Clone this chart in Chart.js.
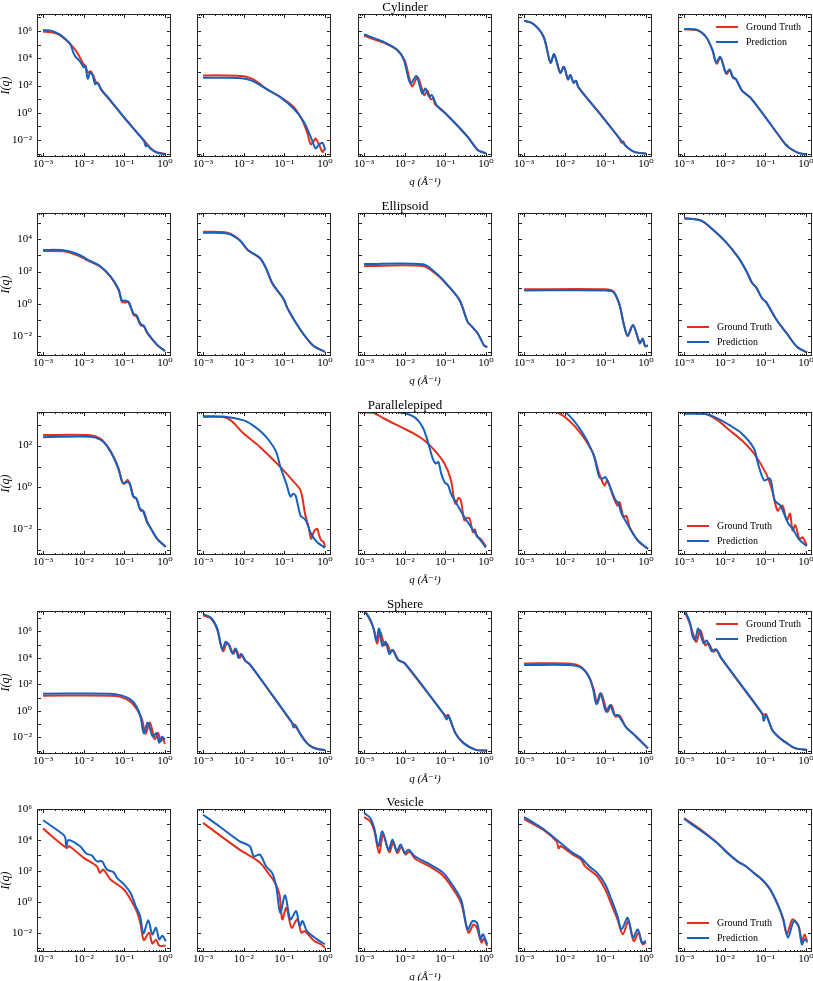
<!DOCTYPE html>
<html>
<head>
<meta charset="utf-8">
<script src="https://cdn.jsdelivr.net/npm/chart.js@4.4.0/dist/chart.umd.min.js"></script>
<style>
  body { margin: 0; background: #fff; width: 813px; height: 981px; overflow: hidden; position: relative; }
  canvas { position: absolute; }
</style>
</head>
<body>
<script>
/* values, stored as [log10 q, log10 I] pairs */
var rowNames = ['Cylinder', 'Ellipsoid', 'Parallelepiped', 'Sphere', 'Vesicle'];
var qTickExp = [-3, -2, -1, 0];
var iTickExp = [[-2, 0, 2, 4, 6], [-2, 0, 2, 4], [-2, 0, 2], [-2, 0, 2, 4, 6], [-2, 0, 2, 4, 6]];
var qLimits = [-3.15, 0.15];
var iLimits = [[-3.25, 7.25], [-3.24, 5.63], [-3.21, 3.6], [-3.26, 7.53], [-3.25, 6.0]];
var legendCorner = ['ur', 'll', 'll', 'ur', 'll'];

var cylinderTruth = [
  [[-3,5.95],[-2.8,5.9],[-2.6,5.72],[-2.45,5.38],[-2.3,4.95],[-2.2,4.6],[-2.1,4.1],[-2.0,3.55],[-1.95,3.4],[-1.9,2.95],[-1.83,3.05],[-1.76,2.7],[-1.7,2.25],[-1.64,2.15],[-1.56,1.65],[-1.45,1.25],[-1.3,0.72],[-1.0,-0.38],[-0.7,-1.42],[-0.5,-2.08],[-0.35,-2.6],[-0.2,-2.9],[0,-3.02]],
  [[-3,2.74],[-2.5,2.74],[-2.0,2.68],[-1.8,2.5],[-1.67,2.27],[-1.42,1.71],[-1.1,1.17],[-0.77,0.43],[-0.56,-0.54],[-0.43,-1.52],[-0.35,-2.31],[-0.28,-2.1],[-0.23,-1.89],[-0.15,-2.3],[-0.06,-2.87],[0,-2.63]],
  [[-3,5.64],[-2.52,5.15],[-2.19,4.6],[-2.0,3.85],[-1.82,1.95],[-1.68,2.6],[-1.52,1.3],[-1.44,1.62],[-1.36,1.0],[-1.3,1.05],[-1.25,0.6],[-1.18,0.45],[-0.95,-0.18],[-0.45,-1.75],[-0.2,-2.73],[0,-2.97]],
  [[-3,6.76],[-2.77,6.52],[-2.52,5.58],[-2.35,3.67],[-2.26,4.29],[-2.11,2.93],[-2.02,3.37],[-1.92,2.45],[-1.86,2.77],[-1.78,2.2],[-1.72,2.35],[-1.66,1.86],[-1.11,-0.15],[-0.66,-1.85],[-0.6,-2.2],[-0.56,-2.1],[-0.5,-2.45],[-0.29,-2.87],[0,-3.0]],
  [[-3,6.13],[-2.67,6.05],[-2.46,5.56],[-2.3,4.58],[-2.2,3.6],[-2.1,4.05],[-1.96,2.85],[-1.87,3.12],[-1.79,2.55],[-1.72,2.45],[-1.64,2.0],[-1.57,1.62],[-1.35,1.05],[-0.52,-2.26],[-0.46,-2.4],[-0.42,-2.55],[-0.19,-2.95],[0,-3.05]]
];
var cylinderPred = [
  [[-3,6.07],[-2.8,6.02],[-2.6,5.78],[-2.45,5.42],[-2.33,5.05],[-2.26,4.45],[-2.2,4.1],[-2.1,3.8],[-2.0,3.35],[-1.96,3.45],[-1.9,2.5],[-1.84,2.95],[-1.78,2.75],[-1.72,2.1],[-1.66,2.2],[-1.58,1.75],[-1.5,1.45],[-1.42,1.2],[-1.3,0.75],[-1.0,-0.35],[-0.7,-1.4],[-0.52,-2.05],[-0.47,-2.45],[-0.42,-2.4],[-0.36,-2.62],[-0.2,-2.93],[0,-3.05]],
  [[-3,2.57],[-2.5,2.57],[-2.0,2.52],[-1.8,2.36],[-1.67,2.15],[-1.42,1.71],[-1.1,1.15],[-0.77,0.3],[-0.52,-0.66],[-0.35,-1.77],[-0.28,-2.3],[-0.23,-2.62],[-0.15,-2.35],[-0.06,-2.2],[0.01,-2.75]],
  [[-3,5.76],[-2.52,5.21],[-2.19,4.65],[-2.02,3.87],[-1.86,2.15],[-1.71,2.69],[-1.57,1.42],[-1.49,1.78],[-1.4,1.18],[-1.33,1.3],[-1.2,0.48],[-0.95,-0.18],[-0.45,-1.77],[-0.2,-2.75],[0,-2.99]],
  [[-3,6.76],[-2.77,6.52],[-2.52,5.58],[-2.35,3.67],[-2.26,4.29],[-2.11,2.93],[-2.02,3.37],[-1.92,2.45],[-1.86,2.77],[-1.78,2.2],[-1.72,2.35],[-1.66,1.86],[-1.11,-0.15],[-0.62,-2.01],[-0.45,-2.55],[-0.29,-2.87],[0,-3.0]],
  [[-3,6.15],[-2.67,6.07],[-2.46,5.58],[-2.3,4.6],[-2.21,3.7],[-2.11,4.1],[-1.97,2.93],[-1.88,3.18],[-1.8,2.6],[-1.73,2.5],[-1.65,2.03],[-1.57,1.6],[-1.35,1.05],[-0.52,-2.26],[-0.45,-2.5],[-0.19,-2.95],[0,-3.05]]
];

var ellipsoidTruth = [
  [[-3,3.27],[-2.5,3.25],[-2.17,3.02],[-1.84,2.61],[-1.59,2.3],[-1.34,1.68],[-1.14,0.85],[-1.06,0.12],[-0.98,0.08],[-0.89,0.12],[-0.77,-0.7],[-0.7,-0.78],[-0.6,-1.32],[-0.52,-1.4],[-0.43,-1.84],[-0.19,-2.56],[0,-2.94]],
  [[-3,4.47],[-2.4,4.4],[-2.1,3.96],[-1.9,3.34],[-1.6,2.82],[-1.45,2.2],[-1.3,1.27],[-1.15,0.75],[-1.02,0.3],[-0.9,-0.39],[-0.6,-1.63],[-0.3,-2.57],[0,-2.98]],
  [[-3,2.34],[-1.55,2.34],[-1.25,1.89],[-0.95,1.16],[-0.65,0.23],[-0.45,-1.12],[-0.35,-1.4],[-0.2,-1.84],[-0.05,-2.57],[0.03,-2.7]],
  [[-3,0.9],[-1.0,0.9],[-0.8,0.76],[-0.65,-0.05],[-0.55,-1.2],[-0.45,-2.0],[-0.32,-1.32],[-0.2,-2.1],[-0.15,-2.46],[-0.08,-2.17],[-0.02,-2.63],[0.05,-2.58]],
  [[-3,5.3],[-2.58,5.16],[-2.28,4.58],[-1.98,3.85],[-1.68,2.92],[-1.48,2.09],[-1.32,1.27],[-1.22,1.0],[-1.08,0.34],[-0.98,0.1],[-0.72,-1.01],[-0.47,-1.84],[-0.22,-2.67],[0.03,-3.02]]
];
var ellipsoidPred = [
  [[-3,3.34],[-2.5,3.32],[-2.17,3.1],[-1.84,2.66],[-1.59,2.33],[-1.34,1.7],[-1.14,0.9],[-1.06,0.2],[-0.98,0.2],[-0.9,0.1],[-0.77,-0.62],[-0.7,-0.7],[-0.6,-1.25],[-0.52,-1.36],[-0.43,-1.8],[-0.19,-2.55],[0,-2.93]],
  [[-3,4.41],[-2.4,4.36],[-2.1,3.94],[-1.9,3.34],[-1.6,2.84],[-1.45,2.2],[-1.3,1.3],[-1.15,0.75],[-1.02,0.3],[-0.9,-0.39],[-0.6,-1.63],[-0.3,-2.57],[0,-2.98]],
  [[-3,2.47],[-1.55,2.45],[-1.25,1.95],[-0.95,1.18],[-0.65,0.23],[-0.45,-1.12],[-0.35,-1.4],[-0.2,-1.84],[-0.05,-2.57],[0.03,-2.7]],
  [[-3,0.83],[-1.0,0.83],[-0.8,0.72],[-0.65,-0.08],[-0.55,-1.22],[-0.45,-2.0],[-0.32,-1.32],[-0.2,-2.1],[-0.15,-2.46],[-0.08,-2.17],[-0.02,-2.63],[0.05,-2.58]],
  [[-3,5.3],[-2.58,5.16],[-2.28,4.58],[-1.98,3.85],[-1.68,2.92],[-1.48,2.09],[-1.32,1.27],[-1.22,1.0],[-1.08,0.34],[-0.98,0.1],[-0.72,-1.01],[-0.47,-1.84],[-0.22,-2.67],[0.03,-3.02]]
];

var parallelepipedTruth = [
  [[-3,2.5],[-1.84,2.49],[-1.59,2.33],[-1.43,2.01],[-1.26,1.45],[-1.14,0.9],[-1.04,0.2],[-1.0,0.18],[-0.92,0.36],[-0.85,0.1],[-0.77,-0.46],[-0.7,-0.55],[-0.6,-1.1],[-0.52,-1.15],[-0.43,-1.66],[-0.36,-1.9],[-0.19,-2.45],[0.02,-2.82]],
  [[-3,3.37],[-2.4,3.3],[-2.0,2.57],[-1.6,1.93],[-1.1,0.98],[-0.8,0.34],[-0.6,-0.14],[-0.49,-1.25],[-0.4,-1.9],[-0.34,-2.45],[-0.27,-2.1],[-0.19,-1.97],[-0.14,-2.3],[-0.09,-2.53],[-0.03,-2.6],[0,-2.85]],
  [[-3,3.58],[-2.76,3.55],[-2.51,3.29],[-2.1,2.89],[-1.77,2.57],[-1.52,2.25],[-1.27,1.78],[-1.02,1.14],[-0.86,0.34],[-0.78,-0.62],[-0.74,-0.78],[-0.68,-0.5],[-0.62,-0.6],[-0.53,-1.57],[-0.46,-1.45],[-0.4,-1.5],[-0.32,-2.13],[-0.27,-2.0],[-0.22,-2.35],[-0.13,-2.45],[0,-2.82]],
  [[-3,4.3],[-2.6,4.0],[-2.2,3.62],[-1.9,3.21],[-1.6,2.57],[-1.3,1.62],[-1.15,0.66],[-1.02,0.1],[-0.95,0.34],[-0.8,-0.46],[-0.7,-0.86],[-0.65,-0.7],[-0.55,-1.41],[-0.48,-1.35],[-0.4,-1.89],[-0.2,-2.53],[0.05,-2.93]],
  [[-3,3.56],[-2.48,3.52],[-2.18,3.21],[-1.88,2.73],[-1.58,2.25],[-1.28,1.62],[-0.98,0.66],[-0.83,-0.14],[-0.7,-1.1],[-0.58,-0.86],[-0.47,-1.57],[-0.39,-1.25],[-0.33,-2.05],[-0.26,-1.8],[-0.16,-2.45],[-0.08,-2.38],[0.02,-2.77]]
];
var parallelepipedPred = [
  [[-3,2.4],[-1.84,2.42],[-1.59,2.28],[-1.43,1.98],[-1.26,1.42],[-1.14,0.85],[-1.06,0.3],[-1.0,0.2],[-0.94,0.26],[-0.87,0.2],[-0.79,-0.4],[-0.7,-0.52],[-0.62,-1.0],[-0.54,-1.12],[-0.45,-1.62],[-0.36,-1.92],[-0.19,-2.45],[0.02,-2.84]],
  [[-3,3.4],[-2.5,3.38],[-2.0,3.2],[-1.8,3.0],[-1.6,2.7],[-1.4,2.3],[-1.2,1.7],[-1.1,1.0],[-0.95,0.18],[-0.85,-0.43],[-0.78,-0.3],[-0.72,-0.4],[-0.6,-1.34],[-0.5,-1.5],[-0.46,-1.6],[-0.34,-2.21],[-0.19,-2.61],[0,-2.88]],
  [[-3,3.62],[-2.5,3.6],[-2.1,3.58],[-1.77,3.37],[-1.56,2.89],[-1.44,2.25],[-1.31,1.38],[-1.23,1.14],[-1.17,1.22],[-1.1,0.66],[-1.02,0.26],[-0.93,0.1],[-0.86,-0.3],[-0.74,-0.7],[-0.53,-1.41],[-0.28,-2.13],[0,-2.87]],
  [[-3,4.6],[-2.5,4.1],[-2.0,3.62],[-1.6,2.73],[-1.3,1.62],[-1.15,0.5],[-1.07,0.42],[-1.0,0.5],[-0.9,0.1],[-0.75,-0.6],[-0.68,-0.75],[-0.6,-1.25],[-0.5,-1.6],[-0.35,-2.1],[-0.2,-2.53],[0.05,-2.93]],
  [[-3,3.52],[-2.48,3.5],[-2.18,3.3],[-1.88,2.97],[-1.58,2.57],[-1.28,1.86],[-1.18,1.14],[-1.03,0.34],[-0.88,0.42],[-0.77,-0.62],[-0.63,-0.86],[-0.53,-1.3],[-0.43,-1.73],[-0.33,-1.95],[-0.18,-2.45],[0.02,-2.8]]
];

var sphereTruth = [
  [[-3,1.14],[-1.34,1.14],[-1.1,1.05],[-0.85,0.69],[-0.68,0.06],[-0.56,-0.69],[-0.48,-1.74],[-0.37,-0.89],[-0.25,-2.14],[-0.17,-1.65],[-0.1,-2.3],[-0.05,-2.1],[0,-2.5]],
  [[-3,7.2],[-2.8,6.95],[-2.65,6.1],[-2.55,4.8],[-2.5,4.5],[-2.42,5.1],[-2.35,4.95],[-2.26,4.3],[-2.18,4.6],[-2.1,4.0],[-2.04,4.2],[-1.95,3.75],[-1.85,3.5],[-1.3,1.2],[-0.8,-0.95],[-0.74,-1.05],[-0.7,-1.3],[-0.6,-1.75],[-0.45,-2.4],[-0.3,-2.75],[-0.15,-2.9],[0,-2.95]],
  [[-3,7.6],[-2.85,6.83],[-2.75,6.08],[-2.68,5.07],[-2.6,5.95],[-2.5,4.95],[-2.43,5.05],[-2.35,4.45],[-2.28,4.55],[-2.15,3.82],[-2.0,3.57],[-1.05,-0.19],[-0.97,-0.4],[-0.93,-0.3],[-0.75,-1.69],[-0.55,-2.44],[-0.25,-2.95],[0.03,-3.0]],
  [[-3,3.57],[-1.9,3.57],[-1.6,3.32],[-1.4,2.56],[-1.28,1.56],[-1.2,0.56],[-1.1,1.31],[-0.95,-0.07],[-0.85,0.43],[-0.75,-0.44],[-0.65,-0.35],[-0.5,-1.19],[-0.25,-1.92],[0.05,-2.82]],
  [[-3,7.6],[-2.86,6.58],[-2.78,5.83],[-2.7,5.2],[-2.6,6.08],[-2.48,4.95],[-2.4,5.1],[-2.28,4.45],[-2.2,4.6],[-2.08,3.95],[-1.08,-0.19],[-1.03,-0.3],[-0.98,-0.25],[-0.83,-1.44],[-0.68,-1.95],[-0.47,-2.44],[-0.27,-2.82],[0.03,-2.95]]
];
var spherePred = [
  [[-3,1.29],[-1.34,1.29],[-1.1,1.18],[-0.85,0.86],[-0.7,0.33],[-0.6,-0.44],[-0.52,-1.69],[-0.42,-0.89],[-0.3,-1.95],[-0.21,-1.69],[-0.14,-2.4],[-0.07,-1.95],[0,-2.2]],
  [[-3,7.3],[-2.8,7.0],[-2.65,6.2],[-2.58,5.2],[-2.52,4.6],[-2.45,5.2],[-2.38,5.05],[-2.28,4.35],[-2.2,4.7],[-2.13,4.0],[-2.06,4.3],[-1.97,3.8],[-1.85,3.5],[-1.3,1.2],[-0.82,-0.85],[-0.77,-1.25],[-0.72,-1.1],[-0.6,-1.8],[-0.45,-2.42],[-0.3,-2.78],[-0.15,-2.9],[0,-2.95]],
  [[-3,7.6],[-2.85,6.9],[-2.76,6.1],[-2.7,5.3],[-2.63,6.2],[-2.55,4.9],[-2.47,5.2],[-2.38,4.3],[-2.3,4.6],[-2.17,3.85],[-2.0,3.6],[-1.05,-0.19],[-0.97,-0.65],[-0.92,-0.4],[-0.75,-1.69],[-0.55,-2.44],[-0.25,-2.95],[0.03,-3.0]],
  [[-3,3.45],[-1.9,3.45],[-1.6,3.25],[-1.4,2.55],[-1.3,1.6],[-1.22,0.5],[-1.12,1.31],[-0.98,-0.07],[-0.88,0.43],[-0.78,-0.3],[-0.68,-0.35],[-0.5,-1.19],[-0.25,-1.92],[0.05,-2.84]],
  [[-3,7.7],[-2.86,6.7],[-2.79,5.6],[-2.73,5.35],[-2.65,6.2],[-2.52,5.1],[-2.44,5.3],[-2.32,4.5],[-2.22,4.65],[-2.08,3.95],[-1.08,-0.19],[-1.04,-0.75],[-0.98,-0.35],[-0.83,-1.44],[-0.68,-1.95],[-0.47,-2.44],[-0.27,-2.82],[0.03,-2.95]]
];

var vesicleTruth = [
  [[-3,4.73],[-2.42,3.48],[-2.36,3.6],[-2.0,2.84],[-1.68,2.3],[-1.6,1.87],[-1.52,2.08],[-1.34,1.44],[-1.01,0.79],[-0.8,-0.06],[-0.68,-0.7],[-0.6,-1.46],[-0.52,-2.48],[-0.39,-2.0],[-0.31,-2.7],[-0.22,-2.45],[-0.14,-2.84],[0.02,-2.84]],
  [[-3,5.1],[-2.1,3.37],[-1.7,2.73],[-1.55,2.4],[-1.4,1.87],[-1.25,1.33],[-1.12,0.47],[-1.05,-1.14],[-0.95,-0.39],[-0.82,-1.68],[-0.68,-1.14],[-0.58,-2.0],[-0.5,-1.9],[-0.26,-2.54],[-0.1,-2.75],[0,-2.97]],
  [[-3,5.48],[-2.85,5.2],[-2.75,4.6],[-2.63,3.16],[-2.53,4.35],[-2.38,3.2],[-2.28,3.85],[-2.18,3.15],[-2.08,3.55],[-1.98,3.05],[-1.88,3.25],[-1.75,2.8],[-1.4,2.3],[-1.05,1.67],[-0.75,0.58],[-0.6,-0.17],[-0.43,-2.0],[-0.3,-1.47],[-0.22,-1.7],[-0.11,-2.64],[-0.05,-2.4],[0.03,-2.85]],
  [[-3,5.35],[-2.5,4.6],[-2.2,3.9],[-2.15,3.45],[-2.1,3.6],[-1.8,3.05],[-1.6,2.73],[-1.5,2.3],[-1.4,2.08],[-1.2,1.65],[-1.0,0.79],[-0.85,-0.17],[-0.7,-1.14],[-0.57,-2.11],[-0.43,-1.25],[-0.3,-2.54],[-0.18,-2.0],[-0.08,-2.75],[0,-2.64]],
  [[-3,5.42],[-2.48,4.45],[-2.18,3.8],[-1.88,3.05],[-1.68,2.62],[-1.48,2.3],[-1.28,1.87],[-1.08,1.44],[-0.88,0.79],[-0.68,-0.28],[-0.56,-1.14],[-0.47,-2.11],[-0.33,-1.14],[-0.18,-1.57],[-0.1,-2.54],[-0.03,-2.11],[0.03,-2.64]]
];
var vesiclePred = [
  [[-3,5.27],[-2.5,4.34],[-2.45,4.1],[-2.43,3.59],[-2.37,4.0],[-2.09,3.59],[-1.93,3.1],[-1.8,3.0],[-1.68,2.62],[-1.55,2.62],[-1.43,2.08],[-1.26,1.9],[-1.18,1.55],[-1.01,1.12],[-0.85,0.58],[-0.72,-0.28],[-0.61,-0.93],[-0.53,-2.05],[-0.41,-1.19],[-0.31,-2.11],[-0.22,-1.68],[-0.14,-2.43],[-0.06,-2.2],[0.02,-2.55]],
  [[-3,5.63],[-2.6,4.88],[-2.1,3.91],[-1.85,3.59],[-1.75,2.94],[-1.6,3.05],[-1.45,2.3],[-1.3,1.87],[-1.2,1.01],[-1.1,-0.71],[-0.98,0.41],[-0.85,-1.14],[-0.71,-0.61],[-0.62,-1.57],[-0.55,-1.25],[-0.44,-1.9],[-0.19,-2.43],[0,-2.75]],
  [[-3,5.74],[-2.85,5.42],[-2.75,4.77],[-2.65,3.59],[-2.55,4.55],[-2.4,3.37],[-2.3,4.02],[-2.2,3.27],[-2.1,3.7],[-2.0,3.16],[-1.9,3.37],[-1.75,2.94],[-1.4,2.45],[-1.05,1.87],[-0.75,0.79],[-0.6,0.04],[-0.45,-1.79],[-0.33,-1.25],[-0.22,-1.36],[-0.13,-2.43],[-0.07,-2.1],[0.03,-2.75]],
  [[-3,5.48],[-2.5,4.66],[-2.25,4.12],[-2.1,3.8],[-1.8,3.16],[-1.6,2.84],[-1.4,2.3],[-1.2,1.87],[-1.0,1.12],[-0.85,0.15],[-0.7,-0.93],[-0.6,-1.79],[-0.45,-1.04],[-0.32,-2.32],[-0.2,-1.79],[-0.1,-2.64],[0,-2.54]],
  [[-3,5.35],[-2.48,4.4],[-2.18,3.78],[-1.88,3.02],[-1.68,2.6],[-1.48,2.3],[-1.28,1.85],[-1.08,1.42],[-0.88,0.8],[-0.68,-0.25],[-0.56,-1.1],[-0.44,-2.32],[-0.3,-1.25],[-0.18,-1.6],[-0.1,-2.75],[-0.03,-2.43],[0.03,-2.54]]
];

var truthRows = [cylinderTruth, ellipsoidTruth, parallelepipedTruth, sphereTruth, vesicleTruth];
var predRows = [cylinderPred, ellipsoidPred, parallelepipedPred, spherePred, vesiclePred];

var RED = '#e2301d';
var BLUE = '#1561bd';
var SERIF = "'Liberation Serif', 'DejaVu Serif', serif";

// panel frame geometry
var panelLeft = [37, 197, 358, 518, 678];
var panelTop = [14, 213, 412, 611, 809];
var PW = 134, PH = 143;
var YAXIS = 40, XAXIS = 34, TITLE = 12, RPAD = 8;

Chart.defaults.font.family = SERIF;
Chart.defaults.color = '#000';

var SUP = {'-': '\u207B', '0': '\u2070', '1': '\u00B9', '2': '\u00B2', '3': '\u00B3', '4': '\u2074', '5': '\u2075', '6': '\u2076', '7': '\u2077', '8': '\u2078', '9': '\u2079'};
function powLabel(v) {
  var e = Math.round(Math.log10(v));
  return '10' + String(e).split('').map(function(c) { return SUP[c]; }).join('');
}

function toPoints(list) {
  return list.map(function(p) { return {x: Math.pow(10, p[0]), y: Math.pow(10, p[1])}; });
}

/* box round the plot area with inward ticks, like the classic matplotlib look */
var framePlugin = {
  id: 'frame',
  afterDraw: function(chart) {
    var ctx = chart.ctx, a = chart.chartArea, x = chart.scales.x, y = chart.scales.y;
    ctx.save();
    ctx.strokeStyle = '#222';
    ctx.lineWidth = 1;
    ctx.beginPath();
    for (var e = -4; e <= 1; e++) {
      for (var k = 1; k <= 9; k++) {
        var v = k * Math.pow(10, e);
        if (v < x.min || v > x.max) continue;
        var px = Math.round(x.getPixelForValue(v)) + 0.5;
        var len = k === 1 ? 4 : 2;
        ctx.moveTo(px, a.bottom); ctx.lineTo(px, a.bottom - len);
        ctx.moveTo(px, a.top); ctx.lineTo(px, a.top + len);
      }
    }
    for (var d = -4; d <= 8; d++) {
      var w = Math.pow(10, d);
      if (w < y.min || w > y.max) continue;
      var py = Math.round(y.getPixelForValue(w)) + 0.5;
      ctx.moveTo(a.left, py); ctx.lineTo(a.left + 4, py);
      ctx.moveTo(a.right, py); ctx.lineTo(a.right - 4, py);
    }
    ctx.stroke();
    ctx.strokeRect(a.left + 0.5, a.top + 0.5, a.width - 1, a.height - 1);
    ctx.restore();
  }
};

/* small legend drawn inside the plot area */
var keyPlugin = {
  id: 'key',
  afterDraw: function(chart, args, opts) {
    if (!opts.corner) return;
    var ctx = chart.ctx, a = chart.chartArea;
    var x0 = opts.corner === 'ur' ? a.left + 38 : a.left + 9;
    var y0 = opts.corner === 'ur' ? a.top + 13 : a.bottom - 29;
    ctx.save();
    ctx.font = '10px ' + SERIF;
    ctx.textBaseline = 'middle';
    ctx.fillStyle = '#000';
    chart.data.datasets.forEach(function(ds, i) {
      var yy = y0 + i * 15;
      ctx.strokeStyle = ds.borderColor;
      ctx.lineWidth = 2;
      ctx.beginPath(); ctx.moveTo(x0, yy); ctx.lineTo(x0 + 22, yy); ctx.stroke();
      ctx.fillText(ds.label, x0 + 30, yy);
    });
    ctx.restore();
  }
};

function makePanel(r, c) {
  var canvas = document.createElement('canvas');
  canvas.width = YAXIS + PW + RPAD;
  canvas.height = TITLE + PH + XAXIS;
  canvas.style.left = (panelLeft[c] - YAXIS) + 'px';
  canvas.style.top = (panelTop[r] - TITLE) + 'px';
  document.body.appendChild(canvas);

  new Chart(canvas, {
    type: 'line',
    data: {
      datasets: [{
        label: 'Ground Truth',
        data: toPoints(truthRows[r][c]),
        borderColor: RED,
        borderWidth: 2,
        pointRadius: 0,
        fill: false,
        tension: 0.3,
        order: 1
      }, {
        label: 'Prediction',
        data: toPoints(predRows[r][c]),
        borderColor: BLUE,
        borderWidth: 2,
        pointRadius: 0,
        fill: false,
        tension: 0.3,
        order: 0
      }]
    },
    options: {
      responsive: false,
      animation: false,
      devicePixelRatio: 1,
      events: [],
      layout: {padding: {left: 0, top: 0, right: RPAD, bottom: 0}},
      plugins: {
        legend: {display: false},
        tooltip: {enabled: false},
        title: {
          display: true,
          text: c === 2 ? rowNames[r] : '',
          font: {size: 13, weight: 'normal', lineHeight: 12 / 13},
          padding: 0,
          color: '#000'
        },
        key: {corner: c === 4 ? legendCorner[r] : null}
      },
      scales: {
        x: {
          type: 'logarithmic',
          min: Math.pow(10, qLimits[0]),
          max: Math.pow(10, qLimits[1]),
          grid: {display: false, drawTicks: false},
          border: {display: false},
          afterBuildTicks: function(s) { s.ticks = qTickExp.map(function(e) { return {value: Math.pow(10, e)}; }); },
          afterFit: function(s) { s.height = XAXIS; s.paddingLeft = 0; s.paddingRight = 0; },
          ticks: {autoSkip: false, maxRotation: 0, minRotation: 0, padding: 1, font: {size: 11}, color: '#000',
                  callback: function(v) { return powLabel(v); }},
          title: {display: c === 2, text: 'q (\u00C5\u207B\u00B9)', color: '#000',
                  font: {size: 11, style: 'italic'}, padding: {top: 0, bottom: 2}}
        },
        y: {
          type: 'logarithmic',
          min: Math.pow(10, iLimits[r][0]),
          max: Math.pow(10, iLimits[r][1]),
          grid: {display: false, drawTicks: false},
          border: {display: false},
          afterBuildTicks: function(s) { s.ticks = iTickExp[r].map(function(e) { return {value: Math.pow(10, e)}; }); },
          afterFit: function(s) { s.width = YAXIS; s.paddingTop = 0; s.paddingBottom = 0; },
          ticks: {display: c === 0, autoSkip: false, padding: 5, font: {size: 11}, color: '#000',
                  callback: function(v) { return powLabel(v); }},
          title: {display: c === 0, text: 'I(q)', color: '#000',
                  font: {size: 12, style: 'italic'}, padding: {top: 2, bottom: 0}}
        }
      }
    },
    plugins: [framePlugin, keyPlugin]
  });
}

for (var r = 0; r < 5; r++) {
  for (var c = 0; c < 5; c++) {
    makePanel(r, c);
  }
}
</script>
</body>
</html>
